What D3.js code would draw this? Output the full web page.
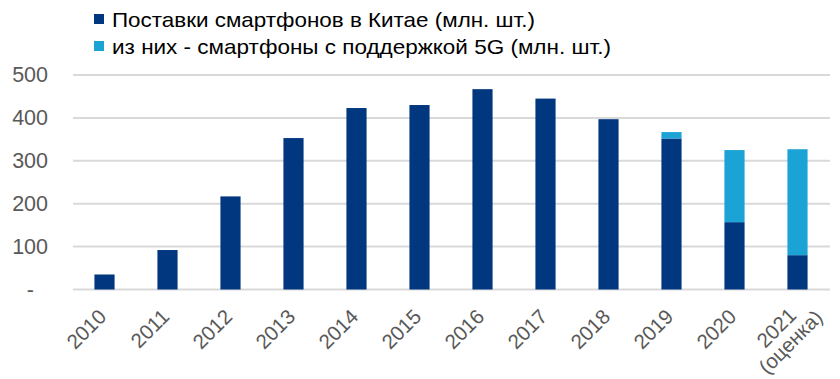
<!DOCTYPE html>
<html>
<head>
<meta charset="utf-8">
<script src="https://cdn.jsdelivr.net/npm/d3@7"></script>
<style>
  html, body { margin: 0; padding: 0; background: #fff; }
  svg { display: block; }
  text { font-family: "Liberation Sans", Arial, sans-serif; }
</style>
</head>
<body>
<svg id="chart" width="840" height="379"></svg>
<script>
const categories = ["2010","2011","2012","2013","2014","2015","2016","2017","2018","2019","2020","2021\n(оценка)"];
const otherShipments = [35, 92, 217, 353, 423, 430, 467, 445, 397, 352, 157, 80];
const fiveGShipments = [0, 0, 0, 0, 0, 0, 0, 0, 0, 15, 168, 247];
const seriesNames = ["Поставки смартфонов в Китае (млн. шт.)", "из них - смартфоны с поддержкой 5G (млн. шт.)"];
const yTicks = [0, 100, 200, 300, 400, 500];

const colors = ["#00377f", "#1ba3d6"];
const legendWidths = [423, 499];
const svg = d3.select("#chart");

const x = d3.scaleBand().domain(categories).range([73, 829]).paddingInner(0.68).paddingOuter(0.34);
const y = d3.scaleLinear().domain([0, 500]).range([289.5, 75]);

// gridlines
svg.append("g").selectAll("line").data(yTicks).join("line")
  .attr("x1", 73).attr("x2", 830)
  .attr("y1", d => y(d)).attr("y2", d => y(d))
  .attr("stroke", "#d9d9d9").attr("stroke-width", 2);

// stacked data
const rows = categories.map((c, i) => ({cat: c, a: otherShipments[i], b: fiveGShipments[i]}));
const stack = d3.stack().keys(["a", "b"])(rows);

svg.append("g").selectAll("g").data(stack).join("g")
  .attr("fill", (d, i) => colors[i])
  .selectAll("rect").data(d => d).join("rect")
  .attr("x", d => x(d.data.cat))
  .attr("width", x.bandwidth())
  .attr("y", d => y(d[1]))
  .attr("height", d => Math.max(0, y(d[0]) - y(d[1])));

// y axis
const yAxis = svg.append("g").attr("transform", "translate(73,0)")
  .call(d3.axisLeft(y).tickValues(yTicks).tickSize(0).tickPadding(25)
    .tickFormat(d => d === 0 ? "-" : d3.format("d")(d)));
yAxis.select(".domain").remove();
yAxis.selectAll("text").attr("font-size", 21.5).attr("fill", "#595959")
  .attr("font-family", "Liberation Sans, Arial, sans-serif");
yAxis.selectAll(".tick").filter(d => d === 0).select("text").attr("dx", -14);

// x labels
const xl = svg.append("g");
categories.forEach(c => {
  const lines = c.split("\n");
  const cx = x(c) + x.bandwidth() / 2;
  if (lines.length === 1) {
    xl.append("text")
      .attr("transform", `translate(${cx + 3},318) rotate(-45)`)
      .attr("text-anchor", "end")
      .attr("font-size", 20.5).attr("fill", "#595959")
      .text(lines[0]);
  } else {
    const g = xl.append("g").attr("transform", `translate(${cx - 2},347) rotate(-45)`);
    g.append("text").attr("x", 0).attr("y", -20).attr("text-anchor", "middle")
      .attr("font-size", 20.5).attr("fill", "#595959").text(lines[0]);
    g.append("text").attr("x", 0).attr("y", 0).attr("text-anchor", "middle")
      .attr("font-size", 20.5).attr("fill", "#595959").text(lines[1]);
  }
});

// legend
const lg = svg.append("g");
seriesNames.forEach((n, i) => {
  lg.append("rect").attr("x", 94).attr("y", 14 + i * 27).attr("width", 10).attr("height", 10)
    .attr("fill", colors[i]);
  lg.append("text").attr("x", 112).attr("y", 27 + i * 27)
    .attr("font-size", 21).attr("fill", "#000")
    .attr("textLength", legendWidths[i]).attr("lengthAdjust", "spacingAndGlyphs")
    .text(n);
});
</script>
</body>
</html>
